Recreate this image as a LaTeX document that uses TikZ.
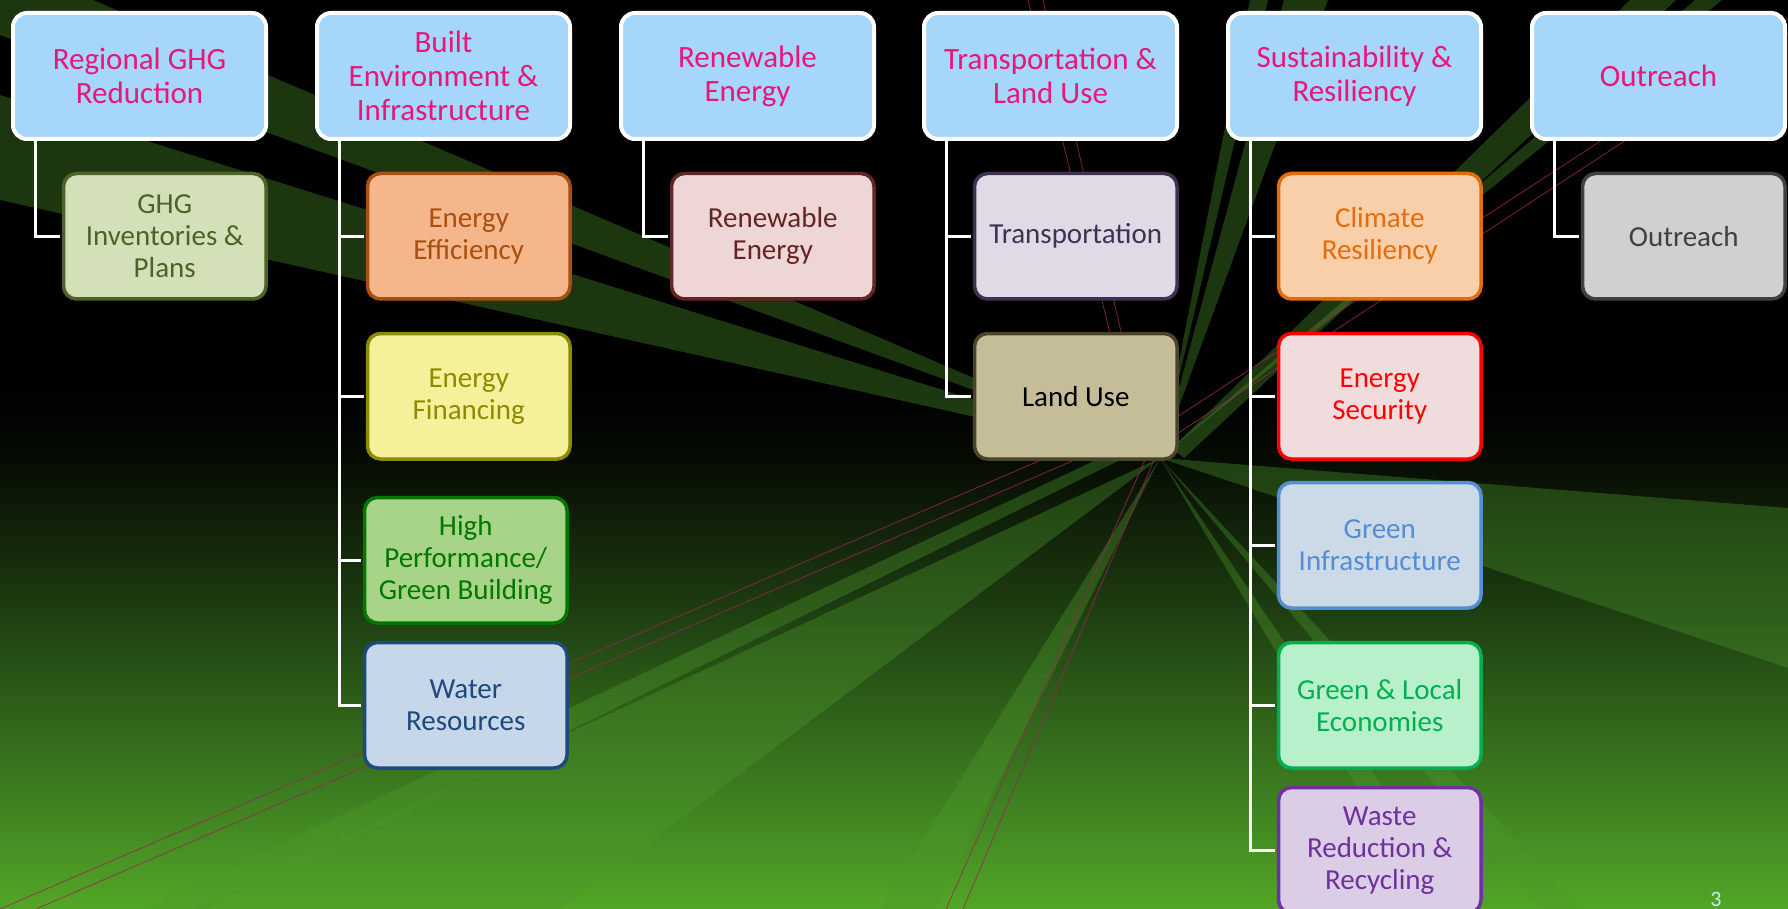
\documentclass[tikz,border=0pt]{standalone}
\usepackage{fontspec}
\setmainfont{Carlito}
\usetikzlibrary{calc}

\definecolor{topfill}{HTML}{A6D6FA}
\definecolor{toptext}{HTML}{E8177A}
\definecolor{bgA}{HTML}{52A626}
\definecolor{bgB}{HTML}{3B7A20}
\definecolor{bgC}{HTML}{1C3A10}
\definecolor{bgD}{HTML}{050A03}
\definecolor{raycol}{HTML}{4E9A2C}
\definecolor{pinkray}{HTML}{9A2458}
\definecolor{pagenum}{HTML}{CDE6F5}

\definecolor{ghgF}{HTML}{D3E0B8}\definecolor{ghgD}{HTML}{4F6228}
\definecolor{eeF}{HTML}{F6B68B}\definecolor{eeD}{HTML}{A8500F}
\definecolor{efF}{HTML}{F5F19A}\definecolor{efD}{HTML}{8C8C00}
\definecolor{hpF}{HTML}{A8D48A}\definecolor{hpD}{HTML}{007800}
\definecolor{wrF}{HTML}{C5D7E8}\definecolor{wrD}{HTML}{1F497D}
\definecolor{reF}{HTML}{EED6D6}\definecolor{reD}{HTML}{632523}
\definecolor{trF}{HTML}{E0DAE6}\definecolor{trD}{HTML}{3F3151}
\definecolor{luF}{HTML}{C4BD97}\definecolor{luD}{HTML}{4A452A}
\definecolor{crF}{HTML}{F9CFAA}\definecolor{crD}{HTML}{E46C0A}
\definecolor{esF}{HTML}{F0DCDC}\definecolor{esD}{HTML}{FF0000}
\definecolor{giF}{HTML}{CCDAE8}\definecolor{giD}{HTML}{558ED5}
\definecolor{glF}{HTML}{B8F0CC}\definecolor{glD}{HTML}{00B050}
\definecolor{wsF}{HTML}{DCCDE6}\definecolor{wsD}{HTML}{7030A0}
\definecolor{ouF}{HTML}{D0D0D0}\definecolor{ouD}{HTML}{404040}

\pgfdeclareverticalshading{bgshade}{100bp}{color(0bp)=(bgA); color(25bp)=(bgA); color(32bp)=(bgB); color(42bp)=(bgC); color(50bp)=(bgD); color(54bp)=(black); color(100bp)=(black)}

\tikzset{
  headbox/.style={draw=white, line width=4pt, fill=topfill, rounded corners=14pt,
    text=toptext, font=\fontsize{31}{34}\selectfont, align=center, inner sep=0pt,
    minimum width=253pt, minimum height=126pt, anchor=north west},
  kidbox/.style n args={3}{draw=#2, fill=#1, text=#3, line width=3.5pt, rounded corners=13pt,
    font=\fontsize{29}{32}\selectfont, align=center, inner sep=0pt,
    minimum width=202.5pt, minimum height=125.5pt, anchor=north west},
  conn/.style={draw=white, line width=3pt, shorten >=1.5pt},
  rayband/.style={fill=raycol, fill opacity=0.36},
  pinkline/.style={draw=pinkray, line width=0.9pt, opacity=0.75},
}

\begin{document}
\begin{tikzpicture}[x=1pt,y=-1pt]
\useasboundingbox (0,0) rectangle (1788,909);
\begin{scope}
\clip (0,0) rectangle (1788,909);
\shade[shading=bgshade] (0,0) rectangle (1788,909);
\coordinate (C) at (1160,458);
% rays to the left
\fill[rayband] (C) -- (0,-40) -- (0,35) -- cycle;
\fill[rayband] (C) -- (0,95) -- (0,200) -- cycle;
% rays upward / up-right
\fill[rayband] (C) -- (1250,0) -- (1268,0) -- cycle;
\fill[rayband] (C) -- (1284,0) -- (1328,0) -- cycle;
\fill[rayband] (1172,448) -- (1630,0) -- (1676,0) -- (1184,458) -- cycle;
\fill[rayband] (C) -- (1695,0) -- (1722,0) -- cycle;
% ray to the right
\fill[rayband] (C) -- (1788,508) -- (1788,668) -- cycle;
% rays downward
\fill[rayband] (C) -- (1430,909) -- (1465,909) -- cycle;
\fill[rayband] (C) -- (1540,909) -- (1580,909) -- cycle;
\fill[rayband] (C) -- (880,909) -- (935,909) -- cycle;
\fill[rayband] (1096,460) -- (-40,995) -- (-40,1030) -- (1120,460) -- cycle;
\fill[rayband] (C) -- (190,909) -- (560,909) -- cycle;
% thin pink lines
\draw[pinkline] (1140,455) -- (1028,0);
\draw[pinkline] (1150,455) -- (1043,0);
\draw[pinkline] (1160,428) -- (1788,19);
\draw[pinkline] (1160,445) -- (1788,34);
\draw[pinkline] (1145,460) -- (946,909);
\draw[pinkline] (1154,460) -- (963,909);
\draw[pinkline] (1150,413) -- (0,909);
\draw[pinkline] (1160,423) -- (36,909);
\end{scope}
% page number
\node[text=pagenum, font=\fontsize{22}{24}\selectfont, anchor=south, inner sep=0pt] (pg) at (1716,907) {3};

% heads
\node[headbox] (h1) at (11,11) {Regional GHG\\Reduction};
\node[headbox] (h2) at (315,11) {Built\\Environment \&\\Infrastructure};
\node[headbox] (h3) at (619,11) {Renewable\\Energy};
\node[headbox] (h4) at (922,11) {Transportation \&\\Land Use};
\node[headbox] (h5) at (1226,11) {Sustainability \&\\Resiliency};
\node[headbox] (h6) at (1530,11) {Outreach};

% children
\node[kidbox={ghgF}{ghgD}{ghgD}] (c11) at (61.75,171.75) {GHG\\Inventories \&\\Plans};
\node[kidbox={eeF}{eeD}{eeD}] (c21) at (365.75,171.75) {Energy\\Efficiency};
\node[kidbox={efF}{efD}{efD}] (c22) at (365.75,331.75) {Energy\\Financing};
\node[kidbox={hpF}{hpD}{hpD}] (c23) at (362.75,495.75) {High\\Performance/\\Green Building};
\node[kidbox={wrF}{wrD}{wrD}] (c24) at (362.75,640.75) {Water\\Resources};
\node[kidbox={reF}{reD}{reD}] (c31) at (669.75,171.75) {Renewable\\Energy};
\node[kidbox={trF}{trD}{trD}] (c41) at (972.75,171.75) {Transportation};
\node[kidbox={luF}{luD}{black}] (c42) at (972.75,331.75) {Land Use};
\node[kidbox={crF}{crD}{crD}] (c51) at (1276.75,171.75) {Climate\\Resiliency};
\node[kidbox={esF}{esD}{esD}] (c52) at (1276.75,331.75) {Energy\\Security};
\node[kidbox={giF}{giD}{giD}] (c53) at (1276.75,480.75) {Green\\Infrastructure};
\node[kidbox={glF}{glD}{glD}] (c54) at (1276.75,640.75) {Green \& Local\\Economies};
\node[kidbox={wsF}{wsD}{wsD}] (c55) at (1276.75,785.75) {Waste\\Reduction \&\\Recycling};
\node[kidbox={ouF}{ouD}{ouD}] (c61) at (1580.75,171.75) {Outreach};

% connectors
\draw[conn] ([xshift=24pt]h1.south west) |- (c11.west);
\draw[conn] ([xshift=24pt]h2.south west) |- (c21.west);
\draw[conn] ([xshift=24pt]h2.south west) |- (c22.west);
\draw[conn] ([xshift=24pt]h2.south west) |- (c23.west);
\draw[conn] ([xshift=24pt]h2.south west) |- (c24.west);
\draw[conn] ([xshift=24pt]h3.south west) |- (c31.west);
\draw[conn] ([xshift=24pt]h4.south west) |- (c41.west);
\draw[conn] ([xshift=24pt]h4.south west) |- (c42.west);
\draw[conn] ([xshift=24pt]h5.south west) |- (c51.west);
\draw[conn] ([xshift=24pt]h5.south west) |- (c52.west);
\draw[conn] ([xshift=24pt]h5.south west) |- (c53.west);
\draw[conn] ([xshift=24pt]h5.south west) |- (c54.west);
\draw[conn] ([xshift=24pt]h5.south west) |- (c55.west);
\draw[conn] ([xshift=24pt]h6.south west) |- (c61.west);
\end{tikzpicture}
\end{document}
